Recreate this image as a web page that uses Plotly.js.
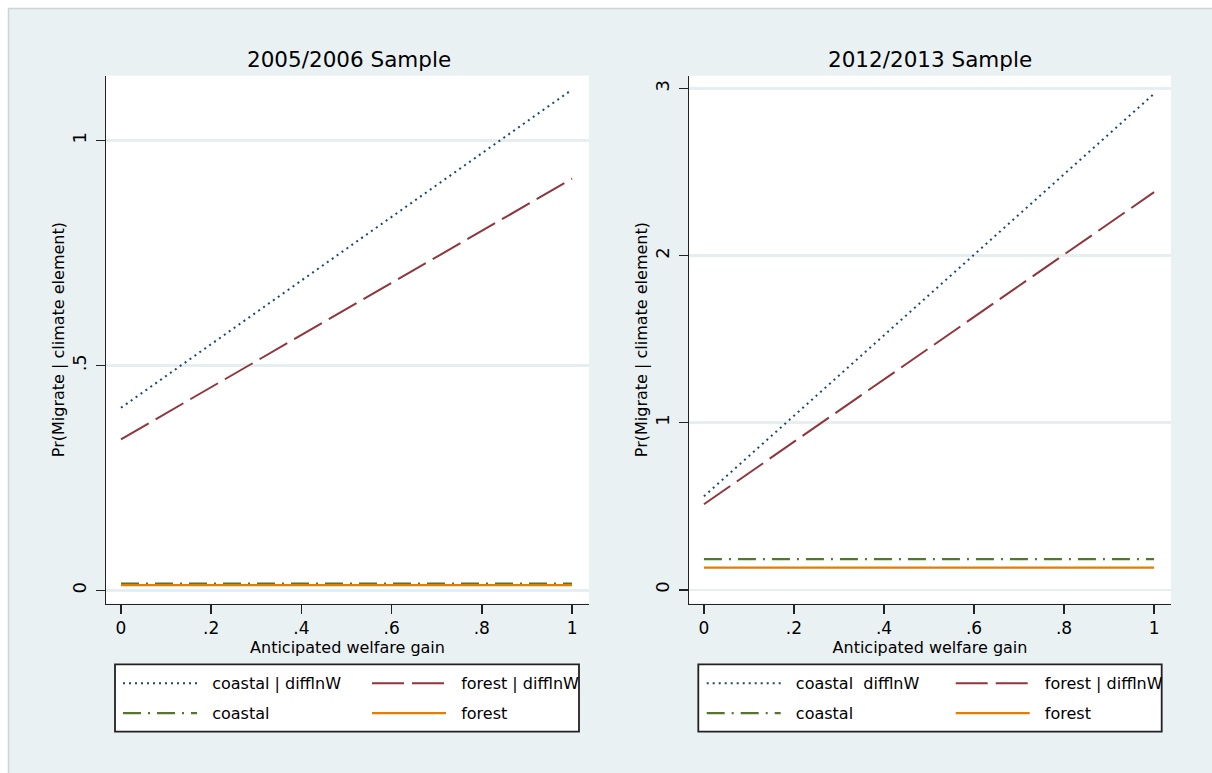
<!DOCTYPE html>
<html>
<head>
<meta charset="utf-8">
<script src="https://cdn.plot.ly/plotly-3.0.1.min.js"></script>
<style>html,body{margin:0;padding:0;background:#fff;overflow:hidden;}#chart{width:1212px;height:773px;}</style>
</head>
<body>
<div id="chart"></div>
<script>
// ---- data ----
const welfareGain = [0, 1];
const seriesNames = ["coastal | difflnW", "forest | difflnW", "coastal", "forest"];
const seriesNames12 = ["coastal \u00a0difflnW", "forest | difflnW", "coastal", "forest"];
const coastalDiff0506 = [0.406, 1.113];
const forestDiff0506 = [0.336, 0.915];
const coastal0506 = [0.015, 0.015];
const forest0506 = [0.012, 0.012];
const coastalDiff1213 = [0.56, 2.969];
const forestDiff1213 = [0.512, 2.38];
const coastal1213 = [0.183, 0.183];
const forest1213 = [0.133, 0.133];
const panelTitles = ["2005/2006 Sample", "2012/2013 Sample"];
const xTickVals = [0, 0.2, 0.4, 0.6, 0.8, 1];
const xTickText = ["0", ".2", ".4", ".6", ".8", "1"];
const yTickVals0506 = [0, 0.5, 1];
const yTickText0506 = ["0", ".5", "1"];
const yTickVals1213 = [0, 1, 2, 3];
const yTickText1213 = ["0", "1", "2", "3"];

// ---- styling ----
const W = 1212, H = 773;
const FONT = "DejaVu Sans";
const BG = "#eaf1f3";
const styles = [
  {color: "#1a476f", dash: "2px,4px", width: 2},
  {color: "#90353b", dash: "32px,8px", width: 2},
  {color: "#55752f", dash: "18px,7px,2px,7px", width: 2.2},
  {color: "#e37e00", dash: "solid", width: 2.2}
];
const px = v => v / W;
const py = v => 1 - v / H;
const PAD = "\u00a0\u00a0";

function mk(x, y, i, names, xa, ya, leg) {
  return {x: x, y: y, type: "scatter", mode: "lines", name: PAD + names[i],
    xaxis: xa, yaxis: ya, legend: leg, line: styles[i], hoverinfo: "skip"};
}
const data = [
  mk(welfareGain, coastalDiff0506, 0, seriesNames, "x", "y", "legend"),
  mk(welfareGain, forestDiff0506, 1, seriesNames, "x", "y", "legend"),
  mk(welfareGain, coastal0506, 2, seriesNames, "x", "y", "legend2"),
  mk(welfareGain, forest0506, 3, seriesNames, "x", "y", "legend2"),
  mk(welfareGain, coastalDiff1213, 0, seriesNames12, "x2", "y2", "legend3"),
  mk(welfareGain, forestDiff1213, 1, seriesNames12, "x2", "y2", "legend3"),
  mk(welfareGain, coastal1213, 2, seriesNames12, "x2", "y2", "legend4"),
  mk(welfareGain, forest1213, 3, seriesNames12, "x2", "y2", "legend4")
];

const axisFont = {family: FONT, size: 16, color: "#000"};
const xTickFont = {family: FONT, size: 17, color: "#000"};
const yTickFont = {family: FONT, size: 18, color: "#000"};
function xax(dom, anchor) {
  return {domain: dom, anchor: anchor, range: [-0.0332, 1.0376], tickvals: xTickVals, ticktext: xTickText,
    showgrid: false, zeroline: false, showline: true, linecolor: "#222", linewidth: 1.5,
    ticks: "outside", ticklen: 9, tickwidth: 1.5, tickcolor: "#222", ticklabelstandoff: 0,
    tickfont: xTickFont, fixedrange: true,
    title: {text: "Anticipated welfare gain", font: axisFont, standoff: 0}};
}
function yax(dom, anchor, range, tv, tt) {
  return {domain: dom, anchor: anchor, range: range, tickvals: tv, ticktext: tt, tickangle: -90,
    showgrid: true, gridcolor: "#e6eef1", gridwidth: 2.5, zeroline: false,
    showline: true, linecolor: "#222", linewidth: 1.5,
    ticks: "outside", ticklen: 9, tickwidth: 1.5, tickcolor: "#222", ticklabelstandoff: 2,
    tickfont: yTickFont, fixedrange: true,
    title: {text: "Pr(Migrate | climate element)", font: axisFont, standoff: 0}};
}
const yDom = [py(603.5), py(75.7)];

function leg(xpx, ypx) {
  return {x: px(xpx), xanchor: "left", y: py(ypx), yanchor: "middle", orientation: "h",
    bgcolor: "rgba(0,0,0,0)", borderwidth: 0, font: {family: FONT, size: 16, color: "#000"},
    itemwidth: 74, entrywidth: 160, entrywidthmode: "pixels", itemclick: false, itemdoubleclick: false};
}

const shapes = [
  {type: "rect", xref: "paper", yref: "paper", x0: 0, x1: 1, y0: py(8), y1: 1, fillcolor: "#fff", line: {width: 0}, layer: "below"},
  {type: "rect", xref: "paper", yref: "paper", x0: 0, x1: px(8), y0: 0, y1: 1, fillcolor: "#fff", line: {width: 0}, layer: "below"},
  {type: "line", xref: "paper", yref: "paper", x0: px(8), x1: 1, y0: py(8.5), y1: py(8.5), line: {color: "#cfd5d6", width: 1.5}, layer: "below"},
  {type: "line", xref: "paper", yref: "paper", x0: px(8.5), x1: px(8.5), y0: 0, y1: py(8), line: {color: "#cfd5d6", width: 1.5}, layer: "below"},
  {type: "rect", xref: "paper", yref: "paper", x0: px(115), x1: px(579), y0: py(731.7), y1: py(664.3), fillcolor: "#fff", line: {color: "#222", width: 1.8}, layer: "below"},
  {type: "rect", xref: "paper", yref: "paper", x0: px(698.3), x1: px(1161.7), y0: py(731.7), y1: py(664.3), fillcolor: "#fff", line: {color: "#222", width: 1.8}, layer: "below"}
];

const annotations = [
  {text: panelTitles[0], xref: "paper", yref: "paper", x: px(348.5), y: py(59), xanchor: "center", yanchor: "middle", showarrow: false, font: {family: FONT, size: 21.5, color: "#000"}},
  {text: panelTitles[1], xref: "paper", yref: "paper", x: px(930), y: py(59), xanchor: "center", yanchor: "middle", showarrow: false, font: {family: FONT, size: 21.5, color: "#000"}}
];

const layout = {
  width: W, height: H, margin: {l: 0, r: 0, t: 0, b: 0, autoexpand: false},
  paper_bgcolor: BG, plot_bgcolor: "#fff", showlegend: true,
  font: {family: FONT, color: "#000"},
  xaxis: xax([px(106), px(589)], "y"),
  yaxis: yax(yDom, "x", [-0.029, 1.144], yTickVals0506, yTickText0506),
  xaxis2: xax([px(689), px(1171)], "y2"),
  yaxis2: yax(yDom, "x2", [-0.082, 3.077], yTickVals1213, yTickText1213),
  legend: leg(118, 683.3),
  legend2: leg(118, 713.3),
  legend3: leg(701.7, 683.3),
  legend4: leg(701.7, 713.3),
  shapes: shapes,
  annotations: annotations
};

Plotly.newPlot("chart", data, layout, {staticPlot: true, displayModeBar: false});
</script>
</body>
</html>
